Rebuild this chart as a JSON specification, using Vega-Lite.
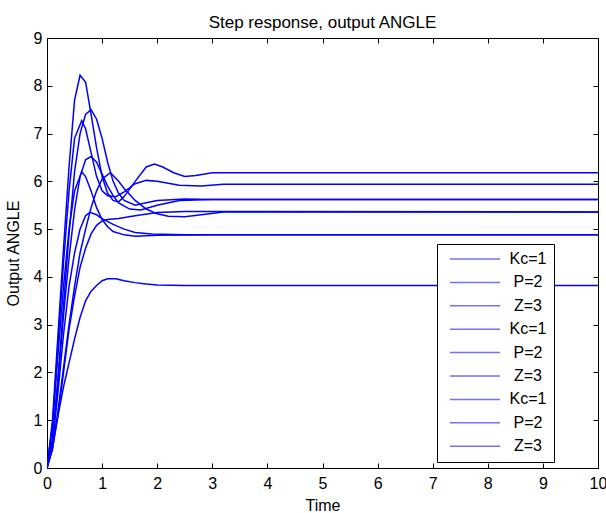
{
  "$schema": "https://vega.github.io/schema/vega-lite/v6.json",
  "width": 551,
  "height": 430,
  "autosize": {"type": "none"},
  "padding": {"left": 47, "top": 38, "right": 8, "bottom": 45},
  "background": "white",
  "title": {"text": "Step response, output ANGLE", "font": "Liberation Sans", "fontSize": 17, "fontWeight": "normal", "color": "black", "offset": -2, "anchor": "middle"},
  "data": {"values": [
    {"s":"1","t":0,"y":0},{"s":"1","t":0.1,"y":1.0},{"s":"1","t":0.2,"y":2.8},{"s":"1","t":0.3,"y":4.6},{"s":"1","t":0.4,"y":6.3},{"s":"1","t":0.5,"y":7.7},{"s":"1","t":0.6,"y":8.22},{"s":"1","t":0.7,"y":8.08},{"s":"1","t":0.8,"y":7.4},{"s":"1","t":0.9,"y":6.7},{"s":"1","t":1.0,"y":6.1},{"s":"1","t":1.1,"y":5.75},{"s":"1","t":1.2,"y":5.6},{"s":"1","t":1.3,"y":5.57},{"s":"1","t":1.4,"y":5.68},{"s":"1","t":1.6,"y":6.0},{"s":"1","t":1.8,"y":6.3},{"s":"1","t":1.95,"y":6.36},{"s":"1","t":2.1,"y":6.3},{"s":"1","t":2.3,"y":6.18},{"s":"1","t":2.5,"y":6.1},{"s":"1","t":2.7,"y":6.12},{"s":"1","t":3.0,"y":6.18},{"s":"1","t":10,"y":6.18},
    {"s":"2","t":0,"y":0},{"s":"2","t":0.1,"y":0.6},{"s":"2","t":0.2,"y":1.9},{"s":"2","t":0.3,"y":3.4},{"s":"2","t":0.4,"y":4.9},{"s":"2","t":0.5,"y":6.2},{"s":"2","t":0.6,"y":7.0},{"s":"2","t":0.7,"y":7.4},{"s":"2","t":0.8,"y":7.5},{"s":"2","t":0.9,"y":7.3},{"s":"2","t":1.0,"y":6.9},{"s":"2","t":1.1,"y":6.4},{"s":"2","t":1.2,"y":6.0},{"s":"2","t":1.3,"y":5.75},{"s":"2","t":1.4,"y":5.6},{"s":"2","t":1.6,"y":5.5},{"s":"2","t":1.8,"y":5.55},{"s":"2","t":2.0,"y":5.6},{"s":"2","t":2.5,"y":5.63},{"s":"2","t":3.0,"y":5.62},{"s":"2","t":10,"y":5.62},
    {"s":"3","t":0,"y":0},{"s":"3","t":0.1,"y":0.9},{"s":"3","t":0.2,"y":2.6},{"s":"3","t":0.3,"y":4.3},{"s":"3","t":0.4,"y":5.8},{"s":"3","t":0.5,"y":6.9},{"s":"3","t":0.63,"y":7.27},{"s":"3","t":0.7,"y":7.1},{"s":"3","t":0.8,"y":6.6},{"s":"3","t":0.9,"y":6.1},{"s":"3","t":1.0,"y":5.8},{"s":"3","t":1.1,"y":5.7},{"s":"3","t":1.25,"y":5.68},{"s":"3","t":1.4,"y":5.78},{"s":"3","t":1.6,"y":5.95},{"s":"3","t":1.8,"y":6.02},{"s":"3","t":2.0,"y":6.0},{"s":"3","t":2.4,"y":5.92},{"s":"3","t":2.8,"y":5.9},{"s":"3","t":3.2,"y":5.94},{"s":"3","t":10,"y":5.94},
    {"s":"4","t":0,"y":0},{"s":"4","t":0.1,"y":0.6},{"s":"4","t":0.2,"y":1.8},{"s":"4","t":0.3,"y":3.2},{"s":"4","t":0.4,"y":4.4},{"s":"4","t":0.5,"y":5.4},{"s":"4","t":0.6,"y":6.1},{"s":"4","t":0.7,"y":6.45},{"s":"4","t":0.8,"y":6.52},{"s":"4","t":0.9,"y":6.4},{"s":"4","t":1.0,"y":6.15},{"s":"4","t":1.1,"y":5.9},{"s":"4","t":1.2,"y":5.7},{"s":"4","t":1.3,"y":5.55},{"s":"4","t":1.5,"y":5.42},{"s":"4","t":1.7,"y":5.4},{"s":"4","t":2.0,"y":5.5},{"s":"4","t":2.4,"y":5.6},{"s":"4","t":3.0,"y":5.62},{"s":"4","t":10,"y":5.62},
    {"s":"5","t":0,"y":0},{"s":"5","t":0.1,"y":0.9},{"s":"5","t":0.2,"y":2.4},{"s":"5","t":0.3,"y":3.8},{"s":"5","t":0.4,"y":5.0},{"s":"5","t":0.5,"y":5.8},{"s":"5","t":0.63,"y":6.2},{"s":"5","t":0.7,"y":6.1},{"s":"5","t":0.8,"y":5.8},{"s":"5","t":0.9,"y":5.45},{"s":"5","t":1.0,"y":5.2},{"s":"5","t":1.1,"y":5.05},{"s":"5","t":1.2,"y":4.95},{"s":"5","t":1.4,"y":4.88},{"s":"5","t":1.6,"y":4.85},{"s":"5","t":2.0,"y":4.87},{"s":"5","t":3.0,"y":4.88},{"s":"5","t":10,"y":4.88},
    {"s":"6","t":0,"y":0},{"s":"6","t":0.1,"y":0.5},{"s":"6","t":0.2,"y":1.6},{"s":"6","t":0.3,"y":2.8},{"s":"6","t":0.4,"y":3.8},{"s":"6","t":0.5,"y":4.5},{"s":"6","t":0.6,"y":5.0},{"s":"6","t":0.7,"y":5.28},{"s":"6","t":0.78,"y":5.35},{"s":"6","t":0.9,"y":5.3},{"s":"6","t":1.0,"y":5.22},{"s":"6","t":1.2,"y":5.1},{"s":"6","t":1.4,"y":5.0},{"s":"6","t":1.6,"y":4.93},{"s":"6","t":1.9,"y":4.9},{"s":"6","t":2.5,"y":4.88},{"s":"6","t":10,"y":4.88},
    {"s":"7","t":0,"y":0},{"s":"7","t":0.1,"y":0.4},{"s":"7","t":0.2,"y":1.2},{"s":"7","t":0.3,"y":2.1},{"s":"7","t":0.4,"y":3.0},{"s":"7","t":0.5,"y":3.8},{"s":"7","t":0.6,"y":4.5},{"s":"7","t":0.7,"y":5.0},{"s":"7","t":0.8,"y":5.45},{"s":"7","t":0.9,"y":5.8},{"s":"7","t":1.0,"y":6.05},{"s":"7","t":1.15,"y":6.18},{"s":"7","t":1.3,"y":6.0},{"s":"7","t":1.4,"y":5.85},{"s":"7","t":1.6,"y":5.6},{"s":"7","t":1.8,"y":5.42},{"s":"7","t":2.0,"y":5.32},{"s":"7","t":2.2,"y":5.27},{"s":"7","t":2.5,"y":5.26},{"s":"7","t":2.8,"y":5.3},{"s":"7","t":3.2,"y":5.36},{"s":"7","t":10,"y":5.36},
    {"s":"8","t":0,"y":0},{"s":"8","t":0.1,"y":0.4},{"s":"8","t":0.2,"y":1.1},{"s":"8","t":0.3,"y":2.0},{"s":"8","t":0.4,"y":2.9},{"s":"8","t":0.5,"y":3.6},{"s":"8","t":0.6,"y":4.2},{"s":"8","t":0.7,"y":4.6},{"s":"8","t":0.8,"y":4.9},{"s":"8","t":0.9,"y":5.08},{"s":"8","t":1.0,"y":5.17},{"s":"8","t":1.1,"y":5.2},{"s":"8","t":1.3,"y":5.22},{"s":"8","t":1.6,"y":5.28},{"s":"8","t":2.0,"y":5.35},{"s":"8","t":2.5,"y":5.37},{"s":"8","t":10,"y":5.36},
    {"s":"9","t":0,"y":0},{"s":"9","t":0.1,"y":0.5},{"s":"9","t":0.2,"y":1.1},{"s":"9","t":0.3,"y":1.7},{"s":"9","t":0.4,"y":2.2},{"s":"9","t":0.5,"y":2.7},{"s":"9","t":0.6,"y":3.15},{"s":"9","t":0.7,"y":3.5},{"s":"9","t":0.8,"y":3.7},{"s":"9","t":0.9,"y":3.82},{"s":"9","t":1.0,"y":3.92},{"s":"9","t":1.1,"y":3.96},{"s":"9","t":1.25,"y":3.96},{"s":"9","t":1.4,"y":3.92},{"s":"9","t":1.6,"y":3.88},{"s":"9","t":1.8,"y":3.85},{"s":"9","t":2.0,"y":3.83},{"s":"9","t":2.5,"y":3.82},{"s":"9","t":10,"y":3.82}
  ]},
  "layer": [
    {
      "mark": {"type": "line", "strokeWidth": 1.5, "clip": true},
      "encoding": {
        "x": {"field": "t", "type": "quantitative", "scale": {"domain": [0, 10], "nice": false, "zero": false},
              "axis": {"orient": "bottom", "title": "Time", "values": [0,1,2,3,4,5,6,7,8,9,10], "labelPadding": 12, "titlePadding": 6, "labelFlush": false}},
        "y": {"field": "y", "type": "quantitative", "scale": {"domain": [0, 9], "nice": false, "zero": false},
              "axis": {"orient": "left", "title": "Output ANGLE", "values": [0,1,2,3,4,5,6,7,8,9], "labelPadding": 10, "titlePadding": 12, "labelFlush": false}},
        "color": {"field": "s", "type": "nominal",
                  "scale": {"domain": ["1","2","3","4","5","6","7","8","9"], "range": ["#0000ff","#0000ff","#0000ff","#0000ff","#0000ff","#0000ff","#0000ff","#0000ff","#0000ff"]},
                  "legend": {"title": null, "orient": "none", "legendX": 390, "legendY": 206,
                             "labelExpr": "['Kc=1','P=2','Z=3'][(toNumber(datum.value)-1)%3]",
                             "symbolType": "M-0.4,0H9.6", "symbolSize": 100, "symbolStrokeWidth": 1.5, "symbolOpacity": 0.55,
                             "labelFont": "Liberation Sans", "labelFontSize": 16, "labelColor": "black",
                             "labelAlign": "center", "labelOffset": 68,
                             "padding": 7, "rowPadding": 7.4, "strokeColor": "black", "fillColor": "white"}}
      }
    },
    {
      "mark": {"type": "line", "opacity": 0},
      "encoding": {
        "x": {"field": "t", "type": "quantitative", "axis": {"orient": "top", "title": null, "labels": false, "values": [0,1,2,3,4,5,6,7,8,9,10], "domain": false}},
        "y": {"field": "y", "type": "quantitative", "axis": {"orient": "right", "title": null, "labels": false, "values": [0,1,2,3,4,5,6,7,8,9], "domain": false}},
        "detail": {"field": "s"}
      }
    }
  ],
  "resolve": {"axis": {"x": "independent", "y": "independent"}},
  "config": {
    "view": {"stroke": "black", "strokeWidth": 1},
    "axis": {"domainColor": "black", "tickColor": "black", "labelColor": "black", "titleColor": "black",
             "labelFont": "Liberation Sans", "titleFont": "Liberation Sans", "labelFontSize": 16, "titleFontSize": 16,
             "titleFontWeight": "normal", "grid": false, "tickSize": -5, "domainWidth": 1, "tickWidth": 1}
  }
}
